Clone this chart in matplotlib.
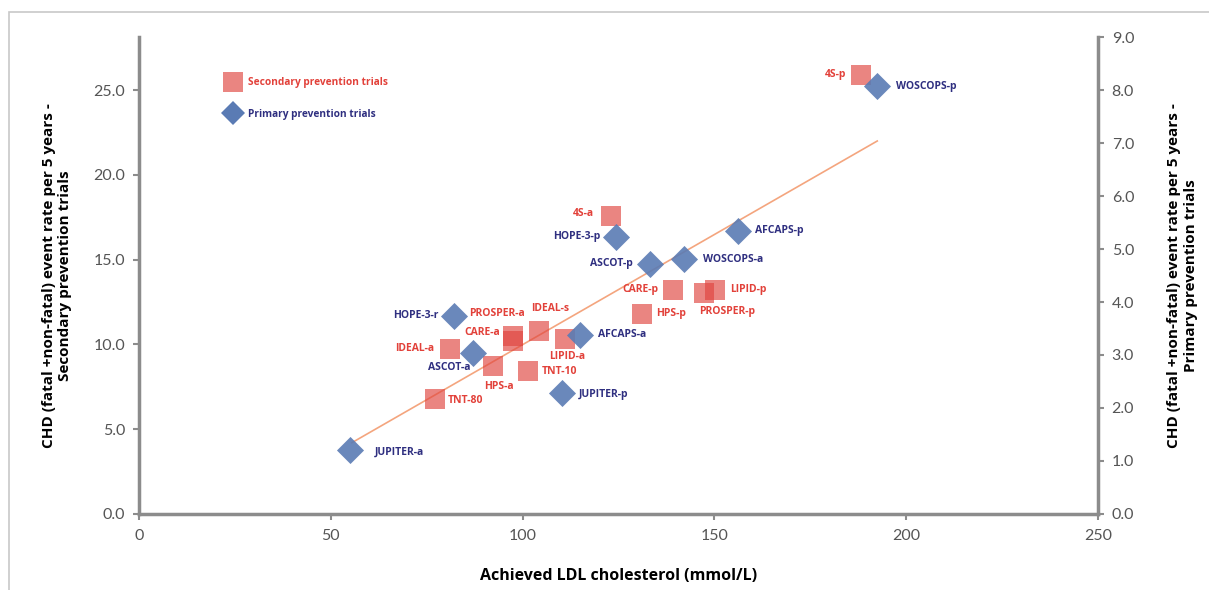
import matplotlib
matplotlib.use("Agg")
from matplotlib import pyplot as plt
from matplotlib.lines import Line2D
from matplotlib.patches import Rectangle

# secondary prevention trials (left axis)
sec_names = ["4S-p", "4S-a", "CARE-p", "LIPID-p", "PROSPER-p", "HPS-p", "IDEAL-s",
             "PROSPER-a", "CARE-a", "LIPID-a", "IDEAL-a", "HPS-a", "TNT-10", "TNT-80"]
sec_ldl = [188.3, 123.0, 139.2, 150.2, 147.4, 131.2, 104.2,
           97.4, 97.4, 111.2, 81.2, 92.2, 101.3, 77.3]
sec_rate = [25.9, 17.6, 13.2, 13.2, 13.05, 11.8, 10.8,
            10.5, 10.2, 10.3, 9.7, 8.7, 8.45, 6.8]

# primary prevention trials (right axis)
pri_names = ["WOSCOPS-p", "AFCAPS-p", "HOPE-3-p", "WOSCOPS-a", "ASCOT-p", "HOPE-3-r",
             "AFCAPS-a", "ASCOT-a", "JUPITER-p", "JUPITER-a"]
pri_ldl = [192.4, 156.1, 124.3, 142.0, 133.2, 82.0, 115.1, 87.2, 110.2, 55.1]
pri_rate = [8.08, 5.34, 5.23, 4.81, 4.72, 3.74, 3.38, 3.04, 2.28, 1.21]

# trend line (left axis units)
trend_x = [55.5, 192.5]
trend_y = [4.2, 22.0]

# label placement: name -> (dx px, dy px, ha)
label_pos = {
    "4S-p": (-15, 0, "right"), "4S-a": (-17, 2, "right"), "CARE-p": (-14, 1, "right"),
    "LIPID-p": (15, 1, "left"), "PROSPER-p": (-5, -19, "left"), "HPS-p": (14, 0, "left"),
    "IDEAL-s": (12, 22, "center"), "PROSPER-a": (-16, 22, "center"),
    "CARE-a": (-12, 8, "right"), "LIPID-a": (2, -17, "center"), "IDEAL-a": (-16, 1, "right"),
    "HPS-a": (6, -20, "center"), "TNT-10": (14, -1, "left"), "TNT-80": (12, -2, "left"),
    "WOSCOPS-p": (19, -1, "left"), "AFCAPS-p": (17, 1, "left"), "HOPE-3-p": (-15, 0, "right"),
    "WOSCOPS-a": (19, 0, "left"), "ASCOT-p": (-17, 0, "right"), "HOPE-3-r": (-15, 0, "right"),
    "AFCAPS-a": (18, 0, "left"), "ASCOT-a": (-3, -15, "right"), "JUPITER-p": (17, -1, "left"),
    "JUPITER-a": (24, -2, "left"),
}

red = "#E0443E"
red_txt = "#E2413A"
blue = "#5A7BB4"
blue_txt = "#2F2F80"
gray = "#8C8C8C"
font = "Lato"
bfont = "Open Sans"

fig = plt.figure(figsize=(12.09, 5.90), dpi=100)
ax = fig.add_axes([0.115, 0.129, 0.793, 0.808])
ax2 = ax.twinx()

fig.patches.append(Rectangle((9 / 1209, -0.1), 1.2, 1.1 - 12 / 590, transform=fig.transFigure,
                             fill=False, edgecolor="#C8C8C8", linewidth=1.2))

ax.plot(trend_x, trend_y, color="#F4A57E", linewidth=1.2, zorder=2)
ax.scatter(sec_ldl, sec_rate, marker="s", s=210, color=red, alpha=0.65, linewidths=0, zorder=3)
ax2.scatter(pri_ldl, pri_rate, marker="D", s=190, color=blue, alpha=0.9, linewidths=0, zorder=4)

for n, x, y in zip(sec_names, sec_ldl, sec_rate):
    dx, dy, ha = label_pos[n]
    ax.annotate(n, (x, y), xytext=(dx, dy), textcoords="offset pixels", ha=ha, va="center",
                fontsize=7.5, fontweight="bold", color=red_txt, family=bfont, zorder=5)
for n, x, y in zip(pri_names, pri_ldl, pri_rate):
    dx, dy, ha = label_pos[n]
    ax2.annotate(n, (x, y), xytext=(dx, dy), textcoords="offset pixels", ha=ha, va="center",
                 fontsize=7.5, fontweight="bold", color=blue_txt, family=bfont, zorder=5)

ax.set_xlim(0, 250)
ax.set_ylim(0, 28.125)
ax2.set_ylim(0, 9)
ax.set_xticks(range(0, 251, 50))
ax.set_yticks([0, 5, 10, 15, 20, 25])
ax.set_yticklabels(["%.1f" % v for v in [0, 5, 10, 15, 20, 25]])
ax2.set_yticks(range(0, 10))
ax2.set_yticklabels(["%.1f" % v for v in range(0, 10)])

for a in (ax, ax2):
    a.spines["top"].set_visible(False)
    for s in a.spines.values():
        s.set_color(gray)
        s.set_linewidth(2.5)
    a.tick_params(colors=gray, width=1.5, length=4, labelsize=11.5, labelcolor="#555555")
    for t in a.get_xticklabels() + a.get_yticklabels():
        t.set_family(font)
ax2.spines["left"].set_visible(False)
ax2.spines["bottom"].set_visible(False)
ax2.spines["right"].set_linewidth(2)
ax.tick_params(axis="x", pad=7)
ax.tick_params(axis="y", pad=6)
ax2.tick_params(axis="y", pad=6)

ax.set_xlabel("Achieved LDL cholesterol (mmol/L)", fontsize=11.5, fontweight="bold", family=bfont,
              labelpad=18)
ax.set_ylabel("CHD (fatal +non-fatal) event rate per 5 years -\nSecondary prevention trials",
              fontsize=11, fontweight="bold", family=bfont, labelpad=15)
ax2.set_ylabel("CHD (fatal +non-fatal) event rate per 5 years -\nPrimary prevention trials",
               fontsize=11, fontweight="bold", family=bfont, rotation=90, labelpad=24)

handles = [Line2D([], [], marker="s", linestyle="", markersize=14, color=red, alpha=0.65, markeredgewidth=0),
           Line2D([], [], marker="D", linestyle="", markersize=12, color=blue, markeredgewidth=0)]
leg = ax.legend(handles, ["Secondary prevention trials", "Primary prevention trials"],
                loc="upper left", bbox_to_anchor=(0.078, 0.935), frameon=False,
                prop={"family": bfont, "weight": "bold", "size": 7.3}, labelspacing=2.0,
                handletextpad=0.5, labelcolor=[red_txt, blue_txt])

fig.savefig("out.png", dpi=100)
